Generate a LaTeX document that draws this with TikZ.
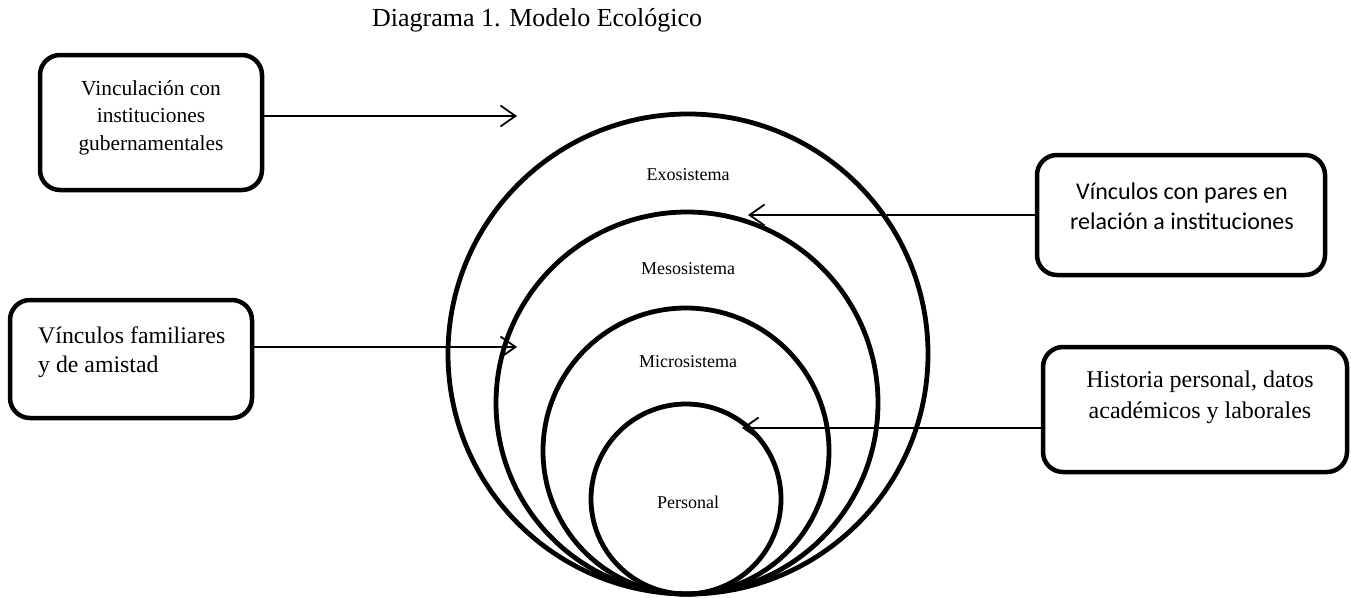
\documentclass[tikz,border=0pt]{standalone}
\usepackage{fontspec}
\setmainfont{Liberation Serif}
\newfontfamily\calibrifont{Carlito}
\usetikzlibrary{arrows.meta}
\begin{document}
\begin{tikzpicture}[x=1pt,y=-1pt,
  frame/.style={draw, line width=4.5pt, rounded corners=20pt, inner sep=0pt},
  ring/.style={line width=4.8pt},
  link/.style={line width=1.8pt, -{Straight Barb[length=15pt,width=21pt,line width=1.8pt]}},
  ringlabel/.style={font=\fontsize{18}{21}\selectfont, inner sep=0pt},
  boxtext/.style={inner sep=0pt, anchor=north, align=center},
]
\useasboundingbox (0,0) rectangle (1351,597);

% title
\node[anchor=base west, font=\fontsize{26}{30}\selectfont, inner sep=0pt] (title) at (372,27) {Diagrama 1. Modelo Ecológico};

% nested systems, all touching at the bottom
\coordinate (exoc) at (688,354);
\coordinate (mesoc) at (687,403);
\coordinate (microc) at (686,451);
\coordinate (persc) at (686,499);
\draw[ring] (exoc) circle[radius=240pt];
\draw[ring] (mesoc) circle[radius=191pt];
\draw[ring] (microc) circle[radius=143pt];
\draw[ring] (persc) circle[radius=95pt];

\node[ringlabel] (exo) at (688,175) {Exosistema};
\node[ringlabel] (meso) at (688,269) {Mesosistema};
\node[ringlabel] (micro) at (688,362) {Microsistema};
\node[ringlabel] (pers) at (688,502) {Personal};

% boxes
\node[frame, minimum width=222pt, minimum height=135pt] (gov) at (151,122.5) {};
\node[boxtext, font=\fontsize{21.4}{27.5}\selectfont] (govtext) at (151,80) {Vinculación con\\instituciones\\gubernamentales};

\node[frame, minimum width=242pt, minimum height=118pt] (fam) at (131,359) {};
\node[inner sep=0pt, anchor=north west, align=left, font=\fontsize{23.8}{29}\selectfont] (famtext) at (38,327) {Vínculos familiares\\y de amistad};

\node[frame, minimum width=288pt, minimum height=120pt] (peer) at (1181,215) {};
\node[boxtext, font=\calibrifont\fontsize{24}{30}\selectfont] (peertext) at (1182,183) {Vínculos con pares en\\relación a instituciones};

\node[frame, minimum width=304pt, minimum height=125pt] (hist) at (1195,409.5) {};
\node[boxtext, font=\fontsize{24}{31}\selectfont] (histtext) at (1200,371) {Historia personal, datos\\académicos y laborales};

% arrows
\coordinate (tipA) at (517,116);
\coordinate (tipB) at (517,347);
\coordinate (tipC) at (748,215);
\coordinate (tipD) at (742,428);
\draw[link] ([yshift=6.5pt]gov.east) -- (tipA);
\draw[link] ([yshift=12pt]fam.east) -- (tipB);
\draw[link] (peer.west) -- (tipC);
\draw[link] ([yshift=-18.5pt]hist.west) -- (tipD);
\end{tikzpicture}
\end{document}
